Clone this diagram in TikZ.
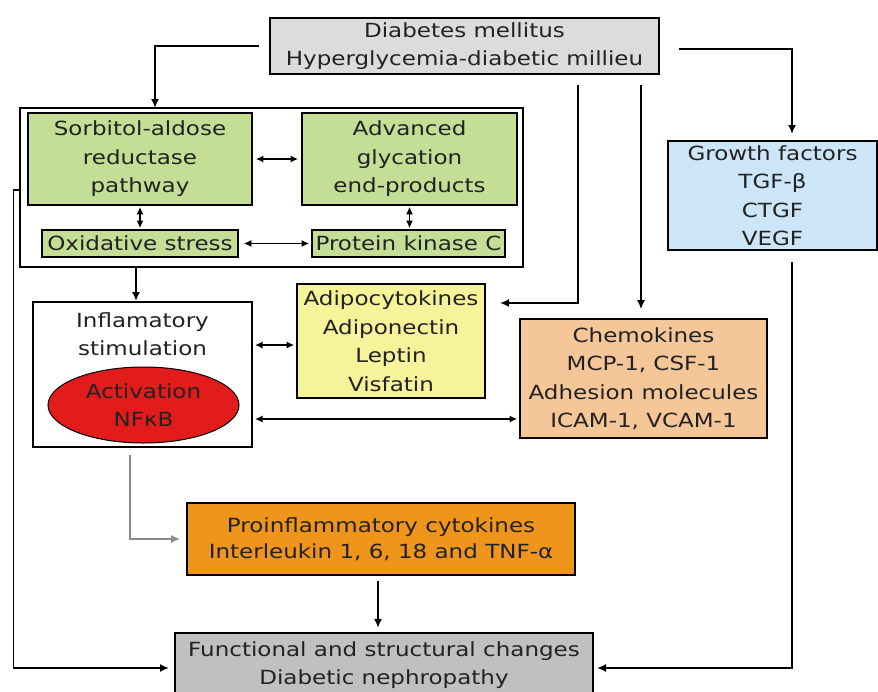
\documentclass[tikz,border=0pt]{standalone}
\usepackage{fontspec}
\setmainfont[FakeStretch=1.18]{DejaVu Sans}
\usetikzlibrary{arrows.meta,shapes.geometric,calc,backgrounds}
\definecolor{topgray}{HTML}{DCDCDC}
\definecolor{boxgreen}{HTML}{C5DE96}
\definecolor{boxblue}{HTML}{CCE6F7}
\definecolor{boxyellow}{HTML}{F7F39B}
\definecolor{boxpeach}{HTML}{F5C698}
\definecolor{boxred}{HTML}{E21B1B}
\definecolor{boxorange}{HTML}{F0951C}
\definecolor{botgray}{HTML}{C0C0C0}
\definecolor{txt}{HTML}{222222}
\definecolor{lgray}{HTML}{8A8A8A}
\begin{document}
\begin{tikzpicture}[x=1pt,y=-1pt,
  box/.style={draw=black,line width=1.6pt,inner sep=0pt,align=center,text=txt,
    font=\fontsize{19.5pt}{28.5pt}\selectfont},
  plain/.style={inner sep=0pt,align=center,text=txt,font=\fontsize{19.5pt}{28.5pt}\selectfont},
  arr/.style={line width=1.6pt,-{Latex[length=9pt,width=8pt]}},
  darr/.style={line width=1.6pt,{Latex[length=7.5pt,width=7pt]}-{Latex[length=7.5pt,width=7pt]}},
  grayarr/.style={line width=1.6pt,draw=lgray,-{Latex[length=9pt,width=8pt]}}]
\useasboundingbox (0,0) rectangle (878,691);

% top box
\node[box,fill=topgray,minimum width=389pt,minimum height=56pt] (top) at (464.5,46)
  {Diabetes mellitus\\Hyperglycemia-diabetic millieu};

% frame
\node[draw=black,line width=1.6pt,minimum width=503pt,minimum height=159pt,inner sep=0pt] (frame) at (271.5,187.5) {};
\node[box,fill=boxgreen,minimum width=224pt,minimum height=92pt] (sorb) at (140,159)
  {Sorbitol-aldose\\reductase\\pathway};
\node[box,fill=boxgreen,minimum width=215pt,minimum height=92pt] (age) at (409.5,159)
  {Advanced\\glycation\\end-products};
\node[box,fill=boxgreen,minimum width=196pt,minimum height=27pt] (ox) at (140,243.5)
  {Oxidative stress};
\node[box,fill=boxgreen,minimum width=193pt,minimum height=27pt] (pkc) at (408.5,243.5)
  {Protein kinase C};

% growth factors
\node[box,fill=boxblue,minimum width=209pt,minimum height=109pt] (growth) at (772.5,195.5)
  {Growth factors\\TGF-β\\CTGF\\VEGF};

% inflammatory
\node[box,fill=white,minimum width=219pt,minimum height=145pt] (inflam) at (142.5,374.5) {};
\node[plain] (inftext) at (142.5,334) {Inflamatory\\stimulation};
\node[ellipse,draw=black,line width=1pt,fill=boxred,minimum width=191pt,minimum height=76pt,
  inner sep=0pt,align=center,text=txt,font=\fontsize{19.5pt}{28.5pt}\selectfont] (nfkb) at (143.5,405)
  {Activation\\NFκB};

% adipocytokines
\node[box,fill=boxyellow,minimum width=188pt,minimum height=114pt] (adipo) at (391,341)
  {Adipocytokines\\Adiponectin\\Leptin\\Visfatin};

% chemokines
\node[box,fill=boxpeach,minimum width=247pt,minimum height=119pt] (chemo) at (643.5,378.5)
  {Chemokines\\MCP-1, CSF-1\\Adhesion molecules\\ICAM-1, VCAM-1};

% proinflammatory
\node[box,fill=boxorange,minimum width=388pt,minimum height=72pt,
  font=\fontsize{19.5pt}{26pt}\selectfont] (pro) at (381,539)
  {Proinflammatory cytokines\\Interleukin 1, 6, 18 and TNF-α};

% functional (box runs past the lower edge)
\node[plain,minimum width=418pt,minimum height=64pt] (func) at (384,665)
  {Functional and structural changes\\Diabetic nephropathy};
\begin{scope}[on background layer]
  \draw[line width=1.6pt,fill=botgray] (func.north west) rectangle ([yshift=-20pt]func.south east);
\end{scope}

% connectors
\coordinate (tl) at ([xshift=-10pt]top.west);
\coordinate (fa) at (155,108);
\draw[arr] (tl) -| (fa);

\coordinate (tr) at ([xshift=19pt,yshift=-3pt]top.east);
\coordinate (ga) at (792,141);
\draw[arr,shorten >=7pt] (tr) -| (ga);

\coordinate (m1) at (578,85);
\coordinate (m1b) at (578,303);
\coordinate (m1e) at (500,303);
\draw[arr] (m1) -- (m1b) -- (m1e);

\coordinate (m2) at (641,85);
\draw[arr,shorten >=9pt] (m2) -- (m2 |- chemo.north);

\coordinate (fs) at (136,267);
\coordinate (ie) at (136,302);
\draw[arr,shorten >=1pt] (fs) -- (ie);

\draw[darr,shorten <=3pt,shorten >=3pt] (sorb.east) -- (age.west);
\draw[darr,shorten <=1pt,shorten >=1pt] (sorb.south) -- (ox.north);
\draw[darr,shorten <=1pt,shorten >=1pt] (age.south) -- (age.south |- pkc.north);
\draw[darr,shorten <=5pt,shorten >=2pt] (ox.east) -- (pkc.west);

\coordinate (ia) at (252,345);
\draw[darr,shorten <=3pt,shorten >=2pt] (ia) -- (ia -| adipo.west);
\coordinate (ic) at (252,419);
\draw[darr,shorten <=3pt,shorten >=2pt] (ic) -- (ic -| chemo.west);

\coordinate (gs) at (130,455);
\draw[grayarr,shorten >=6pt] (gs) |- (pro.west);

\draw[arr,shorten <=5pt,shorten >=5pt] (pro.south -| 378,0) -- (func.north -| 378,0);

\coordinate (lf) at (20,190);
\coordinate (ll) at (13.5,190);
\coordinate (fl) at (175,668);
\draw[arr,shorten >=6pt] (lf) -- (ll) |- (fl);

\coordinate (rg) at (792,262);
\coordinate (fr) at (593,668);
\draw[arr,shorten >=4pt] (rg) |- (fr);
\end{tikzpicture}
\end{document}
